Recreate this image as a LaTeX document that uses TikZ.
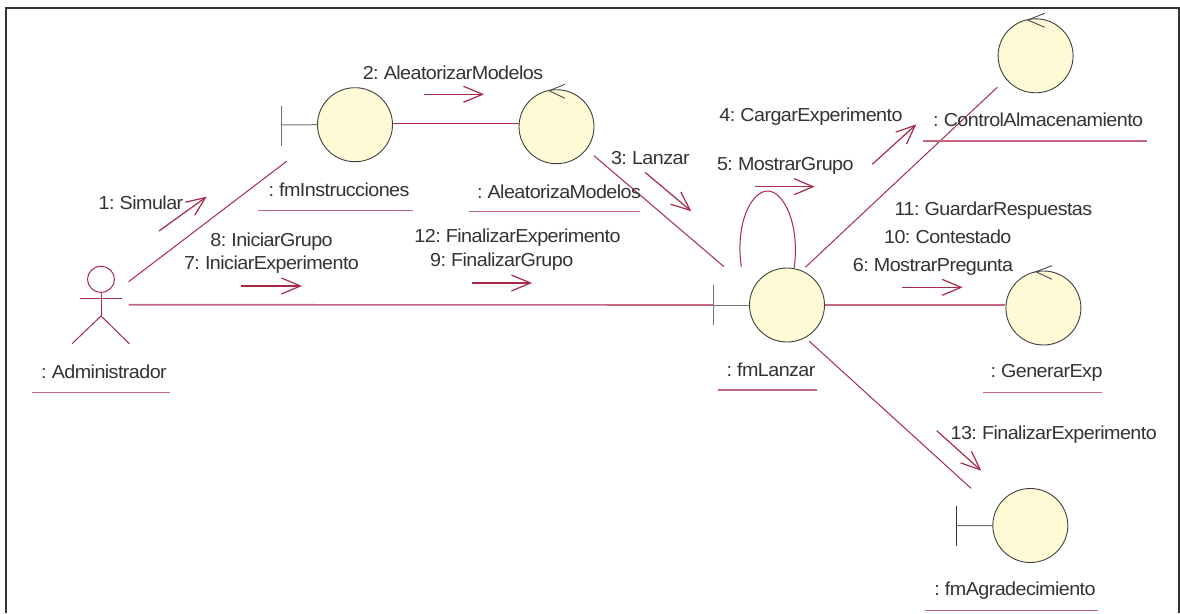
\documentclass[tikz,border=0pt]{standalone}
\usepackage{fontspec}
\setmainfont[LetterSpace=-3.0,FakeStretch=1.05,WordSpace=0.7]{Liberation Sans}
\usetikzlibrary{shapes.geometric,arrows.meta}
\definecolor{ln}{HTML}{A92A48}
\definecolor{ul}{HTML}{C4667C}
\definecolor{fillc}{HTML}{FFFAD6}
\definecolor{txt}{HTML}{333333}
\tikzset{
  x=1pt,y=-1pt,
  obj/.style={ellipse,draw=black!75,line width=0.9pt,fill=fillc,inner sep=0,minimum width=75pt,minimum height=74pt},
  lbl/.style={inner sep=0,text=txt,font=\fontsize{18.8}{20}\selectfont,anchor=center,yshift=-0.7pt},
  assoc/.style={draw=ln,line width=1pt},
  assocb/.style={draw=ul,line width=1.6pt},
  msg/.style={draw=ln,line width=1.2pt,-{Straight Barb[length=19pt,width=16pt,line width=1.2pt]}},
  under/.style={draw=ul,line width=1.4pt},
  ctlmark/.style={draw=black!70,line width=0.9pt},
  stem/.style={draw=black!55,line width=1pt}
}
\begin{document}
\begin{tikzpicture}
\useasboundingbox (0,0) rectangle (1180,613);
\fill[white] (0,0) rectangle (1180,613);
% frame
\draw[black!80,line width=2pt] (5.5,613) -- (5.5,8) -- (1179,8) -- (1179,613);

% objects
\node[obj] (ins) at (355,124.7) {};
\node[obj] (ale) at (556.5,126.7) {};
\node[obj] (ctl) at (1035.6,55.8) {};
\node[obj] (lan) at (787,305) {};
\node[obj] (gen) at (1043.4,308) {};
\node[obj] (agr) at (1030.3,525.5) {};

% boundary marks
\coordinate (insT) at (281,125);
\draw[stem] (281,105.5) -- (281,145.5);
\draw[stem] (insT) -- (ins.west);
\coordinate (lanT) at (713,305);
\draw[stem] (713,285) -- (713,325);
\draw[stem] (lanT) -- (lan.west);
\coordinate (agrT) at (956.3,525.7);
\draw[draw=black!80,line width=1pt] (956.3,506) -- (956.3,545.7);
\draw[stem] (agrT) -- (agr.west);

% control marks
\draw[ctlmark] (565,84.3) -- (549,90.7) -- (565,98.3);
\draw[ctlmark] (1044.7,13.3) -- (1027.7,20) -- (1044.7,27.3);
\draw[ctlmark] (1052,265.7) -- (1035.8,271.7) -- (1052,279.3);

% actor
\node[ellipse,draw=ln,line width=1pt,inner sep=0,minimum width=27pt,minimum height=26pt] (adm) at (101,279.3) {};
\coordinate (hip) at (101,316);
\coordinate (armL) at (79.6,298.3);
\coordinate (armR) at (121.7,298.3);
\coordinate (legL) at (72,343.7);
\coordinate (legR) at (129.4,343.7);
\draw[assoc] (adm.south) -- (hip);
\draw[assoc] (armL) -- (armR);
\draw[assoc] (legL) -- (hip) -- (legR);

% connector end points
\coordinate (a1) at (128.6,281.7);
\coordinate (i1) at (286.6,161.3);
\coordinate (a2) at (128.6,304.7);
\coordinate (e1) at (594,155.7);
\coordinate (l1) at (724,266.7);
\coordinate (l2) at (805.3,267.3);
\coordinate (c2) at (997.3,87.3);
\coordinate (l3) at (809,341);
\coordinate (g3) at (971,488.3);
\coordinate (l4) at (741.3,266.7);
\coordinate (l5) at (794.2,267.7);

% connectors
\draw[assoc] (a1) -- (i1);
\draw[assocb] (a2) -- (lanT);
\draw[assoc] (ins.east |- 0,123.3) -- (ale.west |- 0,123.3);
\draw[assoc] (e1) -- (l1);
\draw[assoc] (l2) -- (c2);
\draw[assoc] (l3) -- (g3);
\draw[assocb] (lan.east) -- (gen.west |- lan.east);
\draw[assoc] (l4) .. controls (735,222) and (752,191) .. (767.6,191) .. controls (784,191) and (800,225) .. (l5);

% message arrows
\coordinate (m1a) at (159,231);   \coordinate (m1b) at (206.7,196.7);
\coordinate (m2a) at (424,94.3);  \coordinate (m2b) at (484,94.3);
\coordinate (m3a) at (645,172.3); \coordinate (m3b) at (691.4,211.3);
\coordinate (m4a) at (872.3,164.3); \coordinate (m4b) at (916.3,124.3);
\coordinate (m5a) at (754.6,186.7); \coordinate (m5b) at (814.6,186.7);
\coordinate (m6a) at (901.9,287.3); \coordinate (m6b) at (962.6,287.3);
\coordinate (m7a) at (241,286);   \coordinate (m7b) at (302,286);
\coordinate (m9a) at (471.5,283); \coordinate (m9b) at (532,283);
\coordinate (m13a) at (936.7,430.7); \coordinate (m13b) at (981.3,470.7);
\foreach \p in {1,2,3,4,5,6,7,9,13}{\draw[msg] (m\p a) -- (m\p b);}

% object labels
\node[lbl] (tins) at (339,189) {: fmInstrucciones};
\node[lbl] (tale) at (559,191) {: AleatorizaModelos};
\node[lbl] (tctl) at (1038.2,119.3) {: ControlAlmacenamiento};
\node[lbl] (tlan) at (771,369.3) {: fmLanzar};
\node[lbl] (tgen) at (1046.5,371.7) {: GenerarExp};
\node[lbl] (tagr) at (1015,590) {: fmAgradecimiento};
\node[lbl] (tadm) at (104,370.7) {: Administrador};

% underlines
\draw[under] (258,210.3) -- (413,210.3);
\draw[under] (469,211.7) -- (640,211.7);
\draw[under] (923,141) -- (1147,141);
\draw[under] (718.4,390) -- (817,390);
\draw[under] (983,392.7) -- (1102.4,392.7);
\draw[under] (925,610.7) -- (1098,610.7);
\draw[under] (31.8,392.3) -- (169.5,392.3);

% message labels
\node[lbl] (t1) at (141,202) {1: Simular};
\node[lbl] (t2) at (453,71.7) {2: AleatorizarModelos};
\node[lbl] (t3) at (650.3,157.7) {3: Lanzar};
\node[lbl] (t4) at (811,116) {4: CargarExperimento};
\node[lbl] (t5) at (785.3,165) {5: MostrarGrupo};
\node[lbl] (t6) at (933,265.7) {6: MostrarPregunta};
\node[lbl] (t7) at (271.5,263.7) {7: IniciarExperimento};
\node[lbl] (t8) at (271.5,241) {8: IniciarGrupo};
\node[lbl] (t9) at (501.7,260.7) {9: FinalizarGrupo};
\node[lbl] (t10) at (947.8,235.7) {10: Contestado};
\node[lbl] (t11) at (993.5,210) {11: GuardarRespuestas};
\node[lbl] (t12) at (517.5,236.7) {12: FinalizarExperimento};
\node[lbl] (t13) at (1053.7,434.3) {13: FinalizarExperimento};
\end{tikzpicture}
\end{document}
